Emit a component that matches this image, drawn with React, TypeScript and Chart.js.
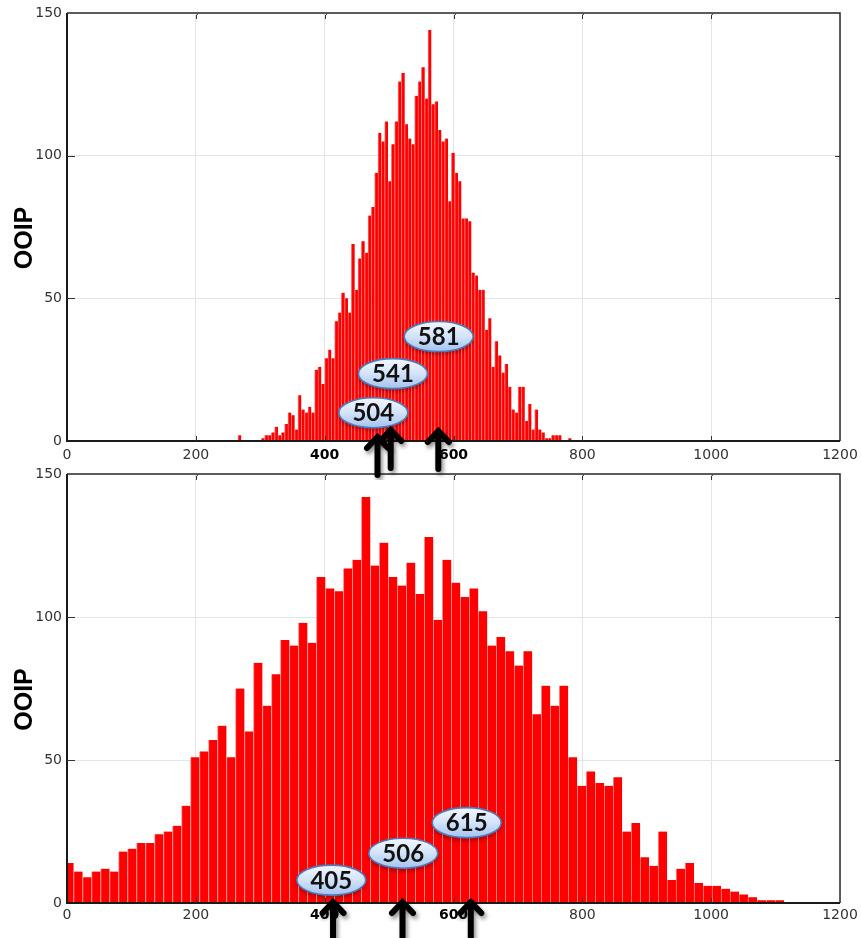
import React, { useEffect, useRef } from "react";
import { Chart, registerables } from "chart.js";

Chart.register(...registerables);

// ---------- data ----------
const X_TICK_VALUES = [0, 200, 400, 600, 800, 1000, 1200];
const Y_TICK_VALUES = [0, 50, 100, 150];
const BOLD_X_TICKS = [400, 600];
const Y_TITLE = "OOIP";

// top panel histogram (100 bins)
const TOP_BIN_START = 265.4;
const TOP_BIN_WIDTH = 5.177;
const TOP_COUNTS = [
  2, 0, 0, 0, 0, 0, 0, 1, 2, 2,
  3, 5, 2, 3, 6, 10, 9, 4, 16, 11,
  10, 12, 10, 25, 26, 20, 29, 32, 29, 42,
  45, 52, 50, 45, 69, 53, 64, 70, 66, 79,
  82, 94, 108, 105, 112, 91, 104, 112, 126, 129,
  111, 106, 104, 121, 126, 131, 120, 144, 118, 119,
  109, 105, 106, 84, 101, 94, 91, 78, 78, 77,
  59, 58, 53, 53, 39, 43, 26, 35, 30, 24,
  27, 19, 11, 10, 19, 19, 7, 13, 4, 11,
  4, 3, 1, 1, 2, 2, 2, 0, 0, 1,
];
const TOP_LABEL_TEXT = ["581", "541", "504"];
const TOP_LABEL_X = [577, 506, 475.5];
const TOP_LABEL_Y = [36.6, 23.6, 9.9];
const TOP_ARROW_X = [482, 502.5, 576.4];

// bottom panel histogram (80 bins)
const BOTTOM_BIN_START = -3.7;
const BOTTOM_BIN_WIDTH = 13.96;
const BOTTOM_COUNTS = [
  14, 11, 9, 11, 12, 11, 18, 19, 21, 21,
  24, 25, 27, 34, 51, 53, 57, 62, 51, 75,
  60, 84, 69, 80, 92, 90, 98, 91, 114, 110,
  109, 117, 120, 142, 118, 126, 114, 111, 119, 108,
  128, 99, 120, 112, 107, 110, 102, 90, 93, 88,
  83, 88, 66, 76, 69, 76, 51, 41, 46, 42,
  41, 44, 25, 28, 16, 13, 25, 8, 12, 14,
  7, 6, 6, 5, 4, 3, 2, 1, 1, 1,
];
const BOTTOM_LABEL_TEXT = ["615", "506", "405"];
const BOTTOM_LABEL_X = [620.5, 522, 410.3];
const BOTTOM_LABEL_Y = [28.1, 17.4, 8.0];
const BOTTOM_ARROW_X = [413, 520.8, 626.8];

// ---------- styling ----------
const TICK_FONT = '"DejaVu Sans", sans-serif';
const GRID_COLOR = "#e4e4e4";

type PanelProps = {
  top: number;
  height: number;
  padTop: number;
  plotBottom: number;
  tickPad: number;
  counts: number[];
  binStart: number;
  binWidth: number;
  labelText: string[];
  labelX: number[];
  labelY: number[];
  arrowX: number[];
  arrowTip: number[];
  arrowLen: number;
  sepColor: string;
};

function drawArrow(ctx: CanvasRenderingContext2D, x: number, tip: number, len: number) {
  ctx.save();
  ctx.shadowColor = "rgba(0,0,0,0.45)";
  ctx.shadowBlur = 4;
  ctx.shadowOffsetX = 2;
  ctx.shadowOffsetY = 3;
  ctx.strokeStyle = "#000";
  ctx.lineWidth = 6;
  ctx.lineCap = "round";
  ctx.lineJoin = "miter";
  ctx.beginPath();
  ctx.moveTo(x, tip + 3);
  ctx.lineTo(x, tip + len);
  ctx.stroke();
  ctx.beginPath();
  ctx.moveTo(x - 10.5, tip + 13);
  ctx.lineTo(x, tip + 2);
  ctx.lineTo(x + 10.5, tip + 13);
  ctx.stroke();
  ctx.restore();
}

function drawBubble(ctx: CanvasRenderingContext2D, cx: number, cy: number, text: string) {
  const rx = 34.5;
  const ry = 15;
  ctx.save();
  ctx.shadowColor = "rgba(0,0,0,0.35)";
  ctx.shadowBlur = 4;
  ctx.shadowOffsetY = 3;
  const g = ctx.createLinearGradient(0, cy - ry, 0, cy + ry);
  g.addColorStop(0, "#f3f7fd");
  g.addColorStop(0.5, "#d3e3f9");
  g.addColorStop(1, "#a3c3ef");
  ctx.fillStyle = g;
  ctx.beginPath();
  ctx.ellipse(cx, cy, rx, ry, 0, 0, Math.PI * 2);
  ctx.fill();
  ctx.shadowColor = "transparent";
  ctx.strokeStyle = "#4a7cbd";
  ctx.lineWidth = 1.6;
  ctx.stroke();
  ctx.fillStyle = "#111";
  ctx.font = 'bold 24px Lato, "Liberation Sans", sans-serif';
  ctx.textAlign = "center";
  ctx.textBaseline = "middle";
  ctx.fillText(text, cx, cy + 1);
  ctx.restore();
}

function Panel(p: PanelProps) {
  const ref = useRef<HTMLCanvasElement>(null);

  useEffect(() => {
    const canvas = ref.current;
    if (!canvas) return;
    const points = p.counts.map((c, i) => ({ x: p.binStart + p.binWidth * (i + 0.5), y: c }));

    const decor = {
      id: "decor",
      afterDraw(chart: any) {
        const ctx: CanvasRenderingContext2D = chart.ctx;
        const { left, right, top, bottom } = chart.chartArea;
        const xs = chart.scales.x;
        const ys = chart.scales.y;
        ctx.save();
        // frame
        ctx.strokeStyle = "#1a1a1a";
        ctx.lineWidth = 2;
        ctx.beginPath();
        ctx.moveTo(left, top);
        ctx.lineTo(left, bottom);
        ctx.lineTo(right, bottom);
        ctx.stroke();
        ctx.strokeStyle = "#2a2a2a";
        ctx.lineWidth = 1.5;
        ctx.beginPath();
        ctx.moveTo(left, top);
        ctx.lineTo(right, top);
        ctx.lineTo(right, bottom);
        ctx.stroke();
        // inward ticks
        ctx.lineWidth = 1;
        ctx.strokeStyle = "#333";
        X_TICK_VALUES.slice(1, -1).forEach((v) => {
          const px = Math.round(xs.getPixelForValue(v)) + 0.5;
          ctx.beginPath();
          ctx.moveTo(px + 1.5, top + 1);
          ctx.lineTo(px, top + 2);
          ctx.lineTo(px, top + 6);
          ctx.stroke();
          ctx.beginPath();
          ctx.moveTo(px, bottom);
          ctx.lineTo(px, bottom - 5);
          ctx.stroke();
        });
        Y_TICK_VALUES.slice(1, -1).forEach((v) => {
          const py = Math.round(ys.getPixelForValue(v)) + 0.5;
          ctx.beginPath();
          ctx.moveTo(left, py);
          ctx.lineTo(left + 8, py);
          ctx.stroke();
          ctx.beginPath();
          ctx.moveTo(right, py);
          ctx.lineTo(right - 5, py);
          ctx.stroke();
        });
        // axis title
        ctx.save();
        ctx.translate(25, (top + bottom) / 2 + 11);
        ctx.rotate(-Math.PI / 2);
        ctx.fillStyle = "#000";
        ctx.font = 'bold 25px "Liberation Sans", Arial, sans-serif';
        ctx.textAlign = "center";
        ctx.textBaseline = "middle";
        ctx.fillText(Y_TITLE, 0, 0);
        ctx.restore();
        // bubbles
        p.labelText.forEach((t, i) => {
          drawBubble(ctx, xs.getPixelForValue(p.labelX[i]), ys.getPixelForValue(p.labelY[i]), t);
        });
        // arrows
        p.arrowX.forEach((v, i) => {
          drawArrow(ctx, xs.getPixelForValue(v), bottom - p.arrowTip[i], p.arrowLen);
        });
        ctx.restore();
      },
    };

    const chart = new Chart(canvas, {
      type: "bar",
      data: {
        datasets: [
          {
            data: points as any,
            backgroundColor: "#ff0000",
            borderColor: p.sepColor,
            borderWidth: { left: 1, right: 0, top: 0, bottom: 0 } as any,
            borderSkipped: false as any,
            barPercentage: 1,
            categoryPercentage: 1,
          },
        ],
      },
      options: {
        animation: false,
        responsive: false,
        devicePixelRatio: 1,
        events: [],
        layout: { padding: { left: 0, right: 21, top: p.padTop, bottom: 0 } },
        plugins: { legend: { display: false }, tooltip: { enabled: false } },
        scales: {
          x: {
            type: "linear",
            min: 0,
            max: 1200,
            offset: false,
            afterBuildTicks: (s: any) => {
              s.ticks = X_TICK_VALUES.map((v) => ({ value: v }));
            },
            afterFit: (s: any) => {
              s.height = p.height - p.plotBottom;
              s.paddingLeft = 0;
              s.paddingRight = 0;
            },
            grid: { color: GRID_COLOR, drawTicks: false, offset: false },
            border: { display: false },
            ticks: {
              padding: p.tickPad,
              maxRotation: 0,
              autoSkip: false,
              callback: (v: any) => String(v),
              color: (c: any) => (BOLD_X_TICKS.includes(c.tick?.value) ? "#000" : "#333"),
              font: (c: any) =>
                BOLD_X_TICKS.includes(c.tick?.value)
                  ? { family: TICK_FONT, size: 14, weight: "bold" }
                  : { family: TICK_FONT, size: 14 },
            } as any,
          },
          y: {
            type: "linear",
            min: 0,
            max: 150,
            afterBuildTicks: (s: any) => {
              s.ticks = Y_TICK_VALUES.map((v) => ({ value: v }));
            },
            afterFit: (s: any) => {
              s.width = 67;
              s.paddingTop = 0;
              s.paddingBottom = 0;
            },
            grid: { color: GRID_COLOR, drawTicks: false },
            border: { display: false },
            ticks: {
              padding: 5,
              color: "#333",
              callback: (v: any) => String(v),
              font: { family: TICK_FONT, size: 14 },
            },
          },
        },
      },
      plugins: [decor],
    } as any);

    return () => chart.destroy();
  }, []);

  return (
    <canvas
      ref={ref}
      width={861}
      height={p.height}
      style={{ position: "absolute", left: 0, top: p.top, width: 861, height: p.height }}
    />
  );
}

export default function App() {
  return (
    <div style={{ position: "absolute", left: 0, top: 0, width: 861, height: 938, background: "#fff", overflow: "hidden" }}>
      <Panel
        top={458}
        height={480}
        padTop={16}
        plotBottom={445}
        tickPad={4}
        counts={BOTTOM_COUNTS}
        binStart={BOTTOM_BIN_START}
        binWidth={BOTTOM_BIN_WIDTH}
        labelText={BOTTOM_LABEL_TEXT}
        labelX={BOTTOM_LABEL_X}
        labelY={BOTTOM_LABEL_Y}
        arrowX={BOTTOM_ARROW_X}
        arrowTip={[3, 3, 3]}
        arrowLen={45}
        sepColor="#ff8a8a"
      />
      <Panel
        top={0}
        height={480}
        padTop={13}
        plotBottom={441}
        tickPad={6}
        counts={TOP_COUNTS}
        binStart={TOP_BIN_START}
        binWidth={TOP_BIN_WIDTH}
        labelText={TOP_LABEL_TEXT}
        labelX={TOP_LABEL_X}
        labelY={TOP_LABEL_Y}
        arrowX={TOP_ARROW_X}
        arrowTip={[6, 13, 12]}
        arrowLen={40}
        sepColor="#ff6a6a"
      />
    </div>
  );
}
